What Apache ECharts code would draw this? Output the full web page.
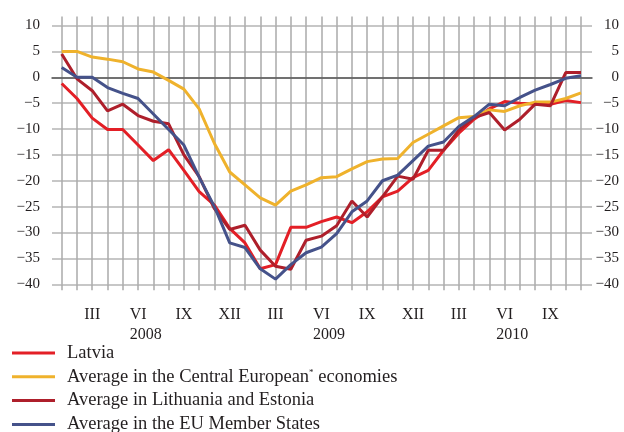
<!DOCTYPE html>
<html>
<head>
<meta charset="utf-8">
<script src="https://cdn.jsdelivr.net/npm/echarts@6/dist/echarts.min.js"></script>
<style>
  html, body { margin: 0; padding: 0; background: #fff; }
  #chart { width: 624px; height: 432px; }
</style>
</head>
<body>
<div id="chart"></div>
<script>
// months Jan 2008 - Nov 2010
var months = ['I','II','III','IV','V','VI','VII','VIII','IX','X','XI','XII',
              'I','II','III','IV','V','VI','VII','VIII','IX','X','XI','XII',
              'I','II','III','IV','V','VI','VII','VIII','IX','X','XI'];
var years = ['2008', '2009', '2010'];

var latvia = [-1.2, -4.1, -7.9, -10.1, -10.1, -13.1, -16.1, -14.0, -18.0, -22.1, -24.7, -29.2,
              -32.0, -37.0, -36.2, -29.0, -29.0, -27.9, -27.0, -28.1, -26.0, -23.1, -22.0, -19.4,
              -18.0, -14.1, -10.8, -8.1, -6.1, -4.7, -5.0, -5.2, -5.2, -4.5, -4.9];
var central = [5.0, 5.0, 3.9, 3.5, 3.0, 1.6, 1.0, -0.6, -2.3, -6.1, -12.8, -18.3,
               -20.8, -23.3, -24.7, -22.0, -20.8, -19.4, -19.2, -17.7, -16.3, -15.8, -15.7, -12.6,
               -11.0, -9.4, -7.8, -7.6, -6.3, -6.6, -5.5, -4.8, -4.8, -4.1, -3.0];
var ltEe = [4.5, -0.3, -2.6, -6.5, -5.2, -7.4, -8.5, -9.0, -15.0, -19.2, -25.4, -29.4,
            -28.6, -33.4, -36.5, -37.1, -31.5, -30.7, -28.7, -23.9, -27.0, -23.1, -19.1, -19.7,
            -14.1, -14.1, -10.2, -7.8, -6.8, -10.2, -8.1, -5.2, -5.5, 0.9, 0.9];
var eu = [1.9, 0, 0, -2.0, -3.1, -4.1, -7.1, -10.1, -13.1, -19.3, -25.0, -32.0,
          -32.9, -37.0, -39.0, -36.2, -33.9, -32.8, -30.2, -26.0, -23.9, -20.0, -18.9, -16.1,
          -13.3, -12.5, -9.5, -7.6, -5.2, -5.5, -3.9, -2.5, -1.4, -0.2, 0.3];

var names = ['Latvia', 'Average in the Central European* economies',
             'Average in Lithuania and Estonia', 'Average in the EU Member States'];
var colors = ['#e31f26', '#efb22c', '#ae1f2b', '#45528a'];

var font = 'Liberation Serif';
var txt = '#231f20';
var gridGray = '#aaaaaa';

function minus(v) { return String(v).replace('-', '\u2212'); }

var myChart = echarts.init(document.getElementById('chart'));

var lineSeries = [latvia, central, ltEe, eu].map(function (d, i) {
    return {
        name: names[i],
        type: 'line',
        xAxisIndex: 1,
        yAxisIndex: 2,
        data: d,
        symbol: 'none',
        lineStyle: { width: 3, color: colors[i] },
        itemStyle: { color: colors[i] },
        z: 3 + (i === 3 ? 1 : 0)
    };
});

option = {
    backgroundColor: '#fff',
    animation: false,
    textStyle: { fontFamily: font },
    grid: [
        { left: 52, top: 25.5, width: 540, height: 258.8 },
        { left: 61.7, top: 25.5, width: 519.3, height: 258.8 },
        { left: 54.1, top: 25.5, width: 549.7, height: 258.8 }
    ],
    legend: {
        orient: 'vertical',
        left: 12,
        top: 343,
        height: 120,
        padding: 0,
        icon: 'rect',
        itemWidth: 43,
        itemHeight: 3,
        itemGap: 3.8,
        data: names,
        formatter: function (name) {
            return name === names[1] ? 'Average in the Central European{sup|*} economies' : name;
        },
        textStyle: {
            fontFamily: font,
            fontSize: 18.5,
            color: txt,
            lineHeight: 20,
            padding: [0, 0, 0, 7],
            rich: {
                sup: { fontSize: 9, fontFamily: font, color: txt, padding: [0, 0, 9, 0] }
            }
        }
    },
    xAxis: [
        {   // zero line across the horizontal grid
            gridIndex: 0, type: 'value', min: 0, max: 1,
            axisLine: { show: true, onZero: true, lineStyle: { color: '#555', width: 1.5 } },
            axisTick: { show: false }, axisLabel: { show: false }, splitLine: { show: false }
        },
        {   // months, vertical grid lines
            gridIndex: 1, type: 'category', data: months, boundaryGap: false,
            axisLine: { show: false, onZero: false },
            axisTick: { show: true, interval: 0, length: 6, lineStyle: { color: gridGray, width: 1.5 } },
            axisLabel: {
                interval: function (i) { return i % 3 === 2; },
                margin: 22, fontSize: 16, fontFamily: font, color: txt
            },
            splitLine: { show: true, interval: 0, lineStyle: { color: gridGray, width: 1.5 } }
        },
        {   // top extension of the vertical lines
            gridIndex: 1, type: 'category', data: months, boundaryGap: false, position: 'top',
            axisLine: { show: false, onZero: false },
            axisTick: { show: true, interval: 0, length: 9, lineStyle: { color: gridGray, width: 1.5 } },
            axisLabel: { show: false }, splitLine: { show: false }
        },
        {   // years
            gridIndex: 2, type: 'category', data: years, boundaryGap: true,
            axisLine: { show: false, onZero: false }, axisTick: { show: false },
            axisLabel: { margin: 42, fontSize: 16, fontFamily: font, color: txt },
            splitLine: { show: false }
        }
    ],
    yAxis: [
        {
            gridIndex: 0, type: 'value', min: -40, max: 10, interval: 5, position: 'left',
            axisLine: { show: false }, axisTick: { show: false },
            axisLabel: { margin: 12, fontSize: 15, fontFamily: font, color: txt, formatter: minus },
            splitLine: { show: true, lineStyle: { color: '#b4b4b4', width: 1.5 } }
        },
        {
            gridIndex: 0, type: 'value', min: -40, max: 10, interval: 5, position: 'right',
            axisLine: { show: false }, axisTick: { show: false },
            axisLabel: { margin: 27, align: 'right', fontSize: 15, fontFamily: font, color: txt, formatter: minus },
            splitLine: { show: false }
        },
        { gridIndex: 1, type: 'value', min: -40, max: 10, interval: 5, show: false },
        { gridIndex: 2, type: 'value', min: -40, max: 10, interval: 5, show: false }
    ],
    series: lineSeries
};

myChart.setOption(option);
</script>
</body>
</html>
